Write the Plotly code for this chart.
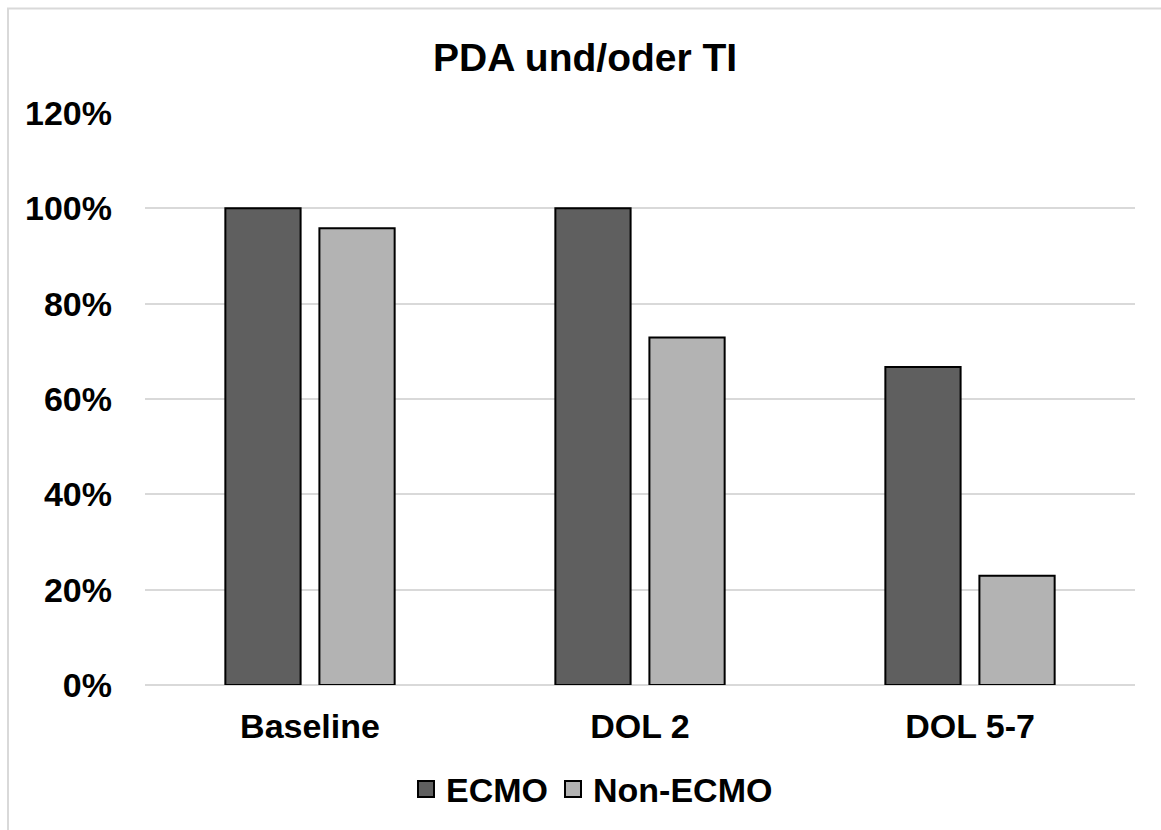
import plotly.graph_objects as go

categories = ["Baseline", "DOL 2", "DOL 5-7"]
ecmo = [1.00, 1.00, 0.667]
non_ecmo = [0.958, 0.729, 0.229]
series_names = ["ECMO", "Non-ECMO"]
series_colors = ["#5f5f5f", "#b3b3b3"]
ytick_vals = [0, 0.2, 0.4, 0.6, 0.8, 1.0, 1.2]

W, H = 1161, 830
ml, mr, mt, mb = 145, 26, 113, 142
pw = W - ml - mr
ph = H - mt - mb

font_family = "Liberation Sans, Arial, sans-serif"

fig = go.Figure()
for vals, name, col in zip([ecmo, non_ecmo], series_names, series_colors):
    fig.add_trace(go.Bar(x=categories, y=vals, name=name, showlegend=False,
                         marker=dict(color=col, line=dict(color="#000000", width=2))))
# legend entries with larger square symbols
for name, col in zip(series_names, series_colors):
    fig.add_trace(go.Scatter(x=[None], y=[None], mode="markers", name="<b>%s</b>" % name,
                             marker=dict(symbol="square", size=16, color=col,
                                         line=dict(color="#000000", width=2))))

fig.update_layout(
    width=W, height=H,
    margin=dict(l=ml, r=mr, t=mt, b=mb, pad=0),
    paper_bgcolor="white", plot_bgcolor="white",
    barmode="group", bargap=0.43, bargroupgap=0.2,
    font=dict(family=font_family, size=34, color="#000000"),
    title=dict(text="<b>PDA und/oder TI</b>", x=0.504, xanchor="center",
               y=1 - 57 / H, yanchor="middle", yref="container",
               font=dict(family=font_family, size=39, color="#000000")),
    legend=dict(orientation="h", x=(592 - ml) / pw, xanchor="center",
                y=-(793 - (mt + ph)) / ph, yanchor="middle",
                font=dict(family=font_family, size=34, color="#000000"),
                itemwidth=30, traceorder="normal", bgcolor="rgba(0,0,0,0)"),
    showlegend=True,
)
fig.update_yaxes(range=[0, 1.2], tickvals=ytick_vals,
                 ticktext=["<b>%d%%</b>" % round(v * 100) for v in ytick_vals],
                 showgrid=True, gridcolor="#d9d9d9", gridwidth=2,
                 zeroline=True, zerolinecolor="#d9d9d9", zerolinewidth=2,
                 showline=False, ticks="", ticklabelstandoff=32,
                 tickfont=dict(family=font_family, size=34, color="#000000"))
fig.update_xaxes(showline=False, ticks="", ticklabelstandoff=18,
                 tickvals=categories, ticktext=["<b>%s</b>" % c for c in categories],
                 tickfont=dict(family=font_family, size=34, color="#000000"))

# Chart border (light gray frame, partially cropped at right/bottom)
fig.add_shape(type="rect", xref="paper", yref="paper",
              x0=(8 - ml) / pw, x1=(1200 - ml) / pw,
              y0=-(900 - (mt + ph)) / ph, y1=((mt + ph) - 8) / ph,
              line=dict(color="#d9d9d9", width=2), fillcolor="rgba(0,0,0,0)", layer="below")

fig.write_html("out.html")
